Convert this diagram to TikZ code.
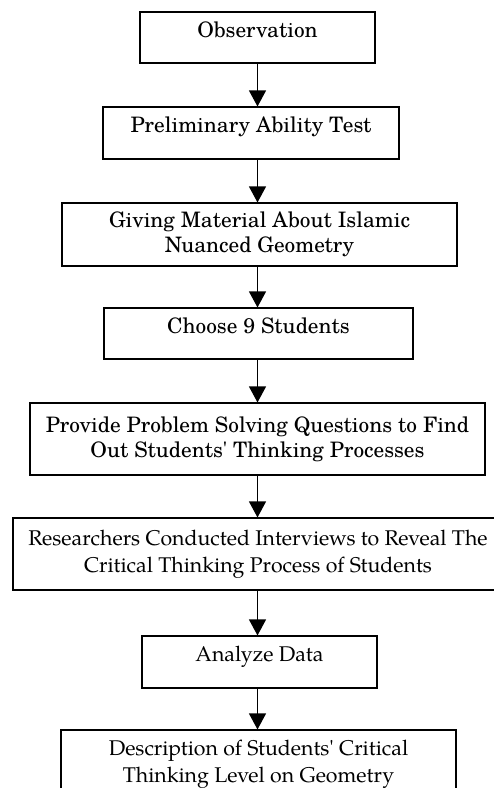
\documentclass[tikz,border=0pt]{standalone}
\usepackage{fontspec}
\setmainfont{texgyreschola}[Extension=.otf, UprightFont=*-regular]
\newfontfamily\pagella{texgyrepagella}[Extension=.otf, UprightFont=*-regular]
\usepackage{tikz}
\usetikzlibrary{positioning, arrows.meta, calc}

\begin{document}
\begin{tikzpicture}[x=1pt, y=-1pt,
    stepbox/.style={draw, line width=1.1pt, inner sep=0pt, align=center},
    schola/.style={font=\fontsize{21.3}{25}\selectfont},
    pala/.style={font=\pagella\fontsize{21.3}{27}\selectfont},
    oneline/.style={text height=14pt, text depth=15pt},
    arr/.style={line width=1.1pt, -{Triangle[length=16pt, width=17pt]}}]
    % page frame
    \useasboundingbox (0,0) rectangle (494,788);

    % steps
    \node[stepbox, schola, oneline, minimum width=235pt, minimum height=51pt] (obs) at (257.5,37.5) {Observation};
    \node[stepbox, schola, oneline, minimum width=296pt, minimum height=52pt] (pre) at (251,133) {Preliminary Ability Test};
    \node[stepbox, schola, minimum width=395pt, minimum height=63pt] (giv) at (259.5,234.5) {Giving Material About Islamic\\Nuanced Geometry};
    \node[stepbox, schola, oneline, minimum width=309pt, minimum height=51pt] (cho) at (258.5,333.5) {Choose 9 Students};
    \node[stepbox, schola, minimum width=455pt, minimum height=72pt] (pro) at (257.5,439) {Provide Problem Solving Questions to Find\\Out Students\textquotesingle{} Thinking Processes};
    \node[stepbox, pala, minimum width=490pt, minimum height=72pt] (res) at (258,554) {Researchers Conducted Interviews to Reveal The\\Critical Thinking Process of Students};
    \node[stepbox, pala, oneline, minimum width=235pt, minimum height=52pt] (ana) at (259.5,662) {Analyze Data};
    \node[stepbox, pala, minimum width=395pt, minimum height=68pt] (des) at (258.5,764) {Description of Students' Critical\\Thinking Level on Geometry};

    % arrows
    \draw[arr] (obs.south -| obs.center) -- (pre.north -| obs.center);
    \draw[arr] (pre.south -| obs.center) -- (giv.north -| obs.center);
    \draw[arr] (giv.south -| obs.center) -- (cho.north -| obs.center);
    \draw[arr] (cho.south -| obs.center) -- (pro.north -| obs.center);
    \draw[arr] (pro.south -| obs.center) -- (res.north -| obs.center);
    \draw[arr] (res.south -| obs.center) -- (ana.north -| obs.center);
    \draw[arr] (ana.south -| obs.center) -- (des.north -| obs.center);
\end{tikzpicture}
\end{document}
